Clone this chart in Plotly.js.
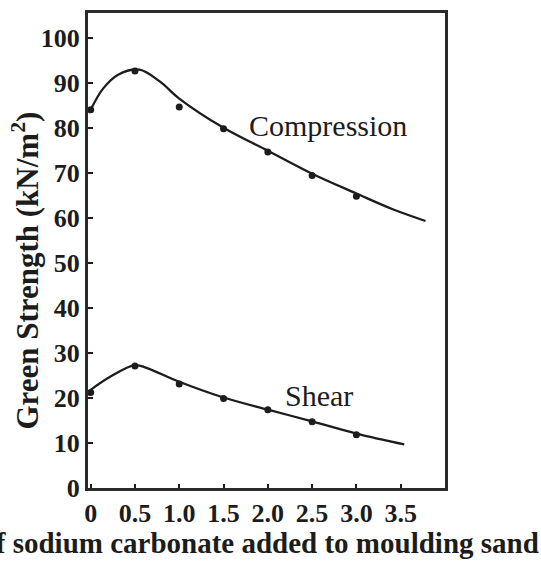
<!DOCTYPE html>
<html>
<head>
<meta charset="utf-8">
<script src="https://cdn.plot.ly/plotly-3.0.1.min.js"></script>
<style>
  html, body { margin: 0; padding: 0; background: #fff; }
  #chart { width: 541px; height: 563px; }
</style>
</head>
<body>
<div id="chart"></div>
<script>
// Sodium carbonate addition (%)
const sodaPct = [0, 0.5, 1.0, 1.5, 2.0, 2.5, 3.0];
// Measured green strength, kN/m^2
const compressionMeasured = [84.0, 92.6, 84.6, 79.8, 74.6, 69.4, 64.8];
const shearMeasured = [21.2, 27.1, 23.1, 19.9, 17.4, 14.7, 11.8];

// Fitted trend curves
const compressionFitX = [0, 0.14, 0.31, 0.55, 0.78, 1.0, 1.5, 2.0, 2.5, 3.0, 3.41, 3.78];
const compressionFitY = [84.0, 88.7, 91.8, 92.9, 90.3, 86.5, 80.0, 74.9, 69.8, 65.4, 61.9, 59.3];
const shearFitX = [0, 0.22, 0.5, 0.63, 1.0, 1.5, 2.0, 2.5, 3.0, 3.54];
const shearFitY = [21.8, 24.7, 27.3, 26.7, 23.6, 20.1, 17.4, 14.8, 12.1, 9.7];

const xTickVals = [0, 0.5, 1.0, 1.5, 2.0, 2.5, 3.0, 3.5];
const xTickText = ['0', '0.5', '1.0', '1.5', '2.0', '2.5', '3.0', '3.5'];
const yTickVals = [0, 10, 20, 30, 40, 50, 60, 70, 80, 90, 100];

const ink = '#1c1c1c';
const serif = 'Liberation Serif, Times New Roman, serif';

const traces = [
  { x: compressionFitX, y: compressionFitY, mode: 'lines', type: 'scatter',
    line: { color: ink, width: 2.3, shape: 'spline', smoothing: 1 }, hoverinfo: 'skip' },
  { x: shearFitX, y: shearFitY, mode: 'lines', type: 'scatter',
    line: { color: ink, width: 2.3, shape: 'spline', smoothing: 1 }, hoverinfo: 'skip' },
  { x: sodaPct, y: compressionMeasured, mode: 'markers', type: 'scatter',
    marker: { color: ink, size: 7, symbol: 'circle' } },
  { x: sodaPct, y: shearMeasured, mode: 'markers', type: 'scatter',
    marker: { color: ink, size: 7, symbol: 'circle' } }
];

const tickFont = { family: serif, size: 26, color: ink, weight: 'bold' };

const layout = {
  width: 541, height: 563,
  margin: { l: 88, r: 96, t: 13, b: 75 },
  paper_bgcolor: '#fff', plot_bgcolor: '#fff',
  showlegend: false,
  font: { family: serif, color: ink },
  xaxis: {
    range: [-0.03, 4.0], tickvals: xTickVals, ticktext: xTickText,
    ticks: 'inside', ticklen: 4, tickwidth: 2, tickcolor: ink,
    showline: true, linewidth: 3, linecolor: '#2a2a2a', mirror: true,
    showgrid: false, zeroline: false, tickfont: tickFont
  },
  yaxis: {
    range: [0, 105.5], tickvals: yTickVals,
    ticks: 'inside', ticklen: 5, tickwidth: 2, tickcolor: ink,
    showline: true, linewidth: 3, linecolor: '#2a2a2a', mirror: true,
    showgrid: false, zeroline: false, tickfont: tickFont
  },
  annotations: [
    { text: 'Compression', xref: 'x', yref: 'y', x: 1.76, y: 80.6,
      xanchor: 'left', yanchor: 'middle', showarrow: false,
      font: { family: serif, size: 30, color: ink } },
    { text: 'Shear', xref: 'x', yref: 'y', x: 2.17, y: 20.5,
      xanchor: 'left', yanchor: 'middle', showarrow: false,
      font: { family: serif, size: 30, color: ink } },
    { text: '<b>Green Strength (kN/m<sup>2</sup>)</b>', xref: 'paper', yref: 'paper',
      x: -0.176, y: 0.458, textangle: -90, xanchor: 'center', yanchor: 'middle',
      showarrow: false, font: { family: serif, size: 31, color: ink } },
    { text: '<b>% of sodium carbonate added to moulding sand</b>', xref: 'paper', yref: 'paper',
      x: 1.268, y: -0.116, xanchor: 'right', yanchor: 'middle',
      showarrow: false, font: { family: serif, size: 29, color: ink } }
  ]
};

Plotly.newPlot('chart', traces, layout, { staticPlot: true, displayModeBar: false });
</script>
</body>
</html>
